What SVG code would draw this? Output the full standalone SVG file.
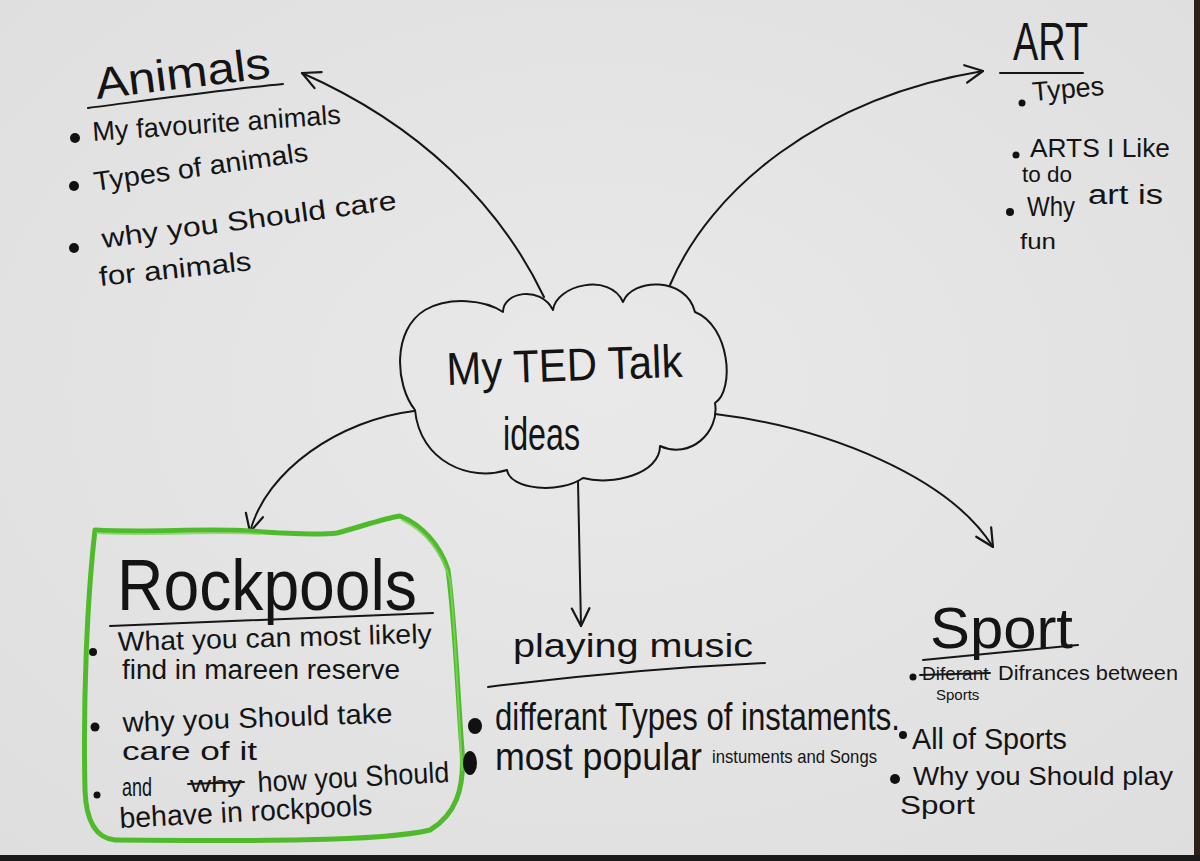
<svg xmlns="http://www.w3.org/2000/svg" width="1200" height="861" viewBox="0 0 1200 861">
  <defs>
    <marker id="openV" viewBox="0 0 20 20" refX="18" refY="10" markerWidth="22" markerHeight="22" markerUnits="userSpaceOnUse" orient="auto">
      <path d="M2,2 L18,10 L2,18" fill="none" stroke="#161616" stroke-width="2" stroke-linecap="round" stroke-linejoin="round"/>
    </marker>
    <radialGradient id="paper" cx="0.5" cy="0.45" r="0.75">
      <stop offset="0" stop-color="#e9e9e9"/>
      <stop offset="1" stop-color="#dedede"/>
    </radialGradient>
  </defs>
  <style>
    .hand { font-family: "Liberation Sans", "DejaVu Sans", Arial, sans-serif; fill: #141414; }
    .ink { fill: none; stroke: #161616; stroke-width: 2; stroke-linecap: round; stroke-linejoin: round; }
    .dot { fill: #111111; }
    .green { fill: none; stroke: #4fbb2c; stroke-width: 5; stroke-linecap: round; stroke-linejoin: round; }
    .green2 { fill: none; stroke: #7fd360; stroke-width: 2; stroke-linecap: round; opacity: 0.8; }
  </style>

  <rect x="0" y="0" width="1200" height="861" fill="url(#paper)"/>
  <rect x="1194" y="0" width="6" height="861" fill="#2a2119"/>
  <rect x="0" y="855" width="1200" height="6" fill="#1a1a1a"/>

  <g id="connectors">
    <path class="ink" d="M544,297 C500,205 420,125 302,73" marker-end="url(#openV)"/>
    <path class="ink" d="M670,285 C710,190 820,98 983,71" marker-end="url(#openV)"/>
    <path class="ink" d="M414,411 C340,420 266,470 250,532" marker-end="url(#openV)"/>
    <path class="ink" d="M578,481 C579,530 580,580 581,626" marker-end="url(#openV)"/>
    <path class="ink" d="M715,414 C830,428 950,478 993,547" marker-end="url(#openV)"/>
  </g>

  <g id="center-cloud">
    <path class="ink" d="M415,410 C395,385 392,330 425,310 C450,296 485,300 503,312 C503,292 540,285 553,310 C556,285 610,272 623,302 C632,278 686,276 695,312 C730,326 735,390 715,403 C720,432 690,460 660,446 C660,474 612,486 583,478 C560,494 510,490 507,470 C470,482 420,462 415,410 Z"/>
    <text class="hand" x="447" y="385" font-size="46" textLength="236" lengthAdjust="spacingAndGlyphs" transform="rotate(-2 447 385)">My TED Talk</text>
    <text class="hand" x="503" y="450" font-size="46" textLength="77" lengthAdjust="spacingAndGlyphs">ideas</text>
  </g>

  <g id="node-animals">
    <text class="hand" x="97" y="99" font-size="44" textLength="176" lengthAdjust="spacingAndGlyphs" transform="rotate(-7 97 99)">Animals</text>
    <path class="ink" d="M88,108 C150,100 220,90 283,84"/>
    <circle class="dot" cx="75" cy="138" r="5"/>
    <text class="hand" x="93" y="141" font-size="27" textLength="249" lengthAdjust="spacingAndGlyphs" transform="rotate(-4 93 141)">My favourite animals</text>
    <circle class="dot" cx="74" cy="186" r="5"/>
    <text class="hand" x="95" y="191" font-size="27" textLength="216" lengthAdjust="spacingAndGlyphs" transform="rotate(-8 95 191)">Types of animals</text>
    <circle class="dot" cx="74" cy="248" r="5"/>
    <text class="hand" x="103" y="248" font-size="27" textLength="297" lengthAdjust="spacingAndGlyphs" transform="rotate(-7.5 103 248)">why you Should care</text>
    <text class="hand" x="100" y="286" font-size="27" textLength="153" lengthAdjust="spacingAndGlyphs" transform="rotate(-6 100 286)">for animals</text>
  </g>

  <g id="node-art">
    <text class="hand" x="1013" y="60" font-size="54" textLength="75" lengthAdjust="spacingAndGlyphs">ART</text>
    <path class="ink" d="M1000,73 L1083,73"/>
    <circle class="dot" cx="1022" cy="103" r="3.5"/>
    <text class="hand" x="1033" y="101" font-size="27" textLength="72" lengthAdjust="spacingAndGlyphs" transform="rotate(-5 1033 101)">Types</text>
    <circle class="dot" cx="1016" cy="155" r="3.5"/>
    <text class="hand" x="1030" y="157" font-size="25" textLength="140" lengthAdjust="spacingAndGlyphs">ARTS I Like</text>
    <text class="hand" x="1022" y="182" font-size="22" textLength="50" lengthAdjust="spacingAndGlyphs">to do</text>
    <circle class="dot" cx="1010" cy="212" r="4"/>
    <text class="hand" x="1027" y="216" font-size="27" textLength="48" lengthAdjust="spacingAndGlyphs">Why</text>
    <text class="hand" x="1088" y="204" font-size="27" textLength="75" lengthAdjust="spacingAndGlyphs">art is</text>
    <text class="hand" x="1020" y="249" font-size="22" textLength="36" lengthAdjust="spacingAndGlyphs">fun</text>
  </g>

  <g id="node-rockpools">
    <path class="green" d="M95,530 C150,533 200,528 250,531 C290,534 320,535 337,533 C360,527 385,518 400,516 C422,525 440,545 448,570 C455,620 458,700 462,750 C465,790 455,815 430,830 C380,842 250,841 115,840 C95,838 86,820 85,790 C83,700 87,600 95,530 Z"/>
    <path class="green2" d="M97,533 C160,536 210,531 260,534 M402,520 C424,530 442,552 450,580 C456,640 459,720 462,770"/>
    <text class="hand" x="117" y="610" font-size="72" textLength="300" lengthAdjust="spacingAndGlyphs">Rockpools</text>
    <path class="ink" d="M110,626 L433,613"/>
    <circle class="dot" cx="93" cy="652" r="4"/>
    <text class="hand" x="118" y="651" font-size="27" textLength="314" lengthAdjust="spacingAndGlyphs" transform="rotate(-1.5 118 651)">What you can most likely</text>
    <text class="hand" x="122" y="679" font-size="27" textLength="278" lengthAdjust="spacingAndGlyphs">find in mareen reserve</text>
    <circle class="dot" cx="95" cy="727" r="4.5"/>
    <text class="hand" x="123" y="732" font-size="28" textLength="270" lengthAdjust="spacingAndGlyphs" transform="rotate(-2 123 732)">why you Should take</text>
    <text class="hand" x="122" y="760" font-size="26" textLength="135" lengthAdjust="spacingAndGlyphs">care of it</text>
    <circle class="dot" cx="97" cy="795" r="3.5"/>
    <text class="hand" x="122" y="796" font-size="26" textLength="30" lengthAdjust="spacingAndGlyphs">and</text>
    <text class="hand" x="190" y="792" font-size="22" textLength="52" lengthAdjust="spacingAndGlyphs">why</text>
    <path class="ink" d="M188,784 L244,782"/>
    <text class="hand" x="258" y="792" font-size="29" textLength="192" lengthAdjust="spacingAndGlyphs" transform="rotate(-3 258 792)">how you Should</text>
    <text class="hand" x="120" y="828" font-size="29" textLength="253" lengthAdjust="spacingAndGlyphs" transform="rotate(-3 120 828)">behave in rockpools</text>
  </g>

  <g id="node-music">
    <text class="hand" x="513" y="657" font-size="34" textLength="240" lengthAdjust="spacingAndGlyphs">playing music</text>
    <path class="ink" d="M488,687 C600,673 700,666 765,663"/>
    <ellipse class="dot" cx="475" cy="726" rx="7" ry="8"/>
    <text class="hand" x="495" y="730" font-size="38" textLength="405" lengthAdjust="spacingAndGlyphs">differant Types of instaments.</text>
    <ellipse class="dot" cx="470" cy="763" rx="7" ry="12"/>
    <text class="hand" x="495" y="770" font-size="38" textLength="207" lengthAdjust="spacingAndGlyphs">most popular</text>
    <text class="hand" x="712" y="763" font-size="19" textLength="165" lengthAdjust="spacingAndGlyphs">instuments and Songs</text>
  </g>

  <g id="node-sport">
    <text class="hand" x="930" y="648" font-size="58" textLength="143" lengthAdjust="spacingAndGlyphs">Sport</text>
    <path class="ink" d="M923,660 L1078,645"/>
    <circle class="dot" cx="913" cy="677" r="3.5"/>
    <text class="hand" x="922" y="680" font-size="19">Diferant</text>
    <path class="ink" d="M920,675 L990,673"/>
    <text class="hand" x="998" y="680" font-size="21" textLength="180" lengthAdjust="spacingAndGlyphs">Difrances between</text>
    <text class="hand" x="936" y="700" font-size="15">Sports</text>
    <circle class="dot" cx="903" cy="735" r="4"/>
    <text class="hand" x="912" y="749" font-size="30" textLength="155" lengthAdjust="spacingAndGlyphs">All of Sports</text>
    <circle class="dot" cx="895" cy="779" r="5"/>
    <text class="hand" x="913" y="785" font-size="25" textLength="260" lengthAdjust="spacingAndGlyphs">Why you Should play</text>
    <text class="hand" x="900" y="814" font-size="25" textLength="75" lengthAdjust="spacingAndGlyphs">Sport</text>
  </g>
</svg>
